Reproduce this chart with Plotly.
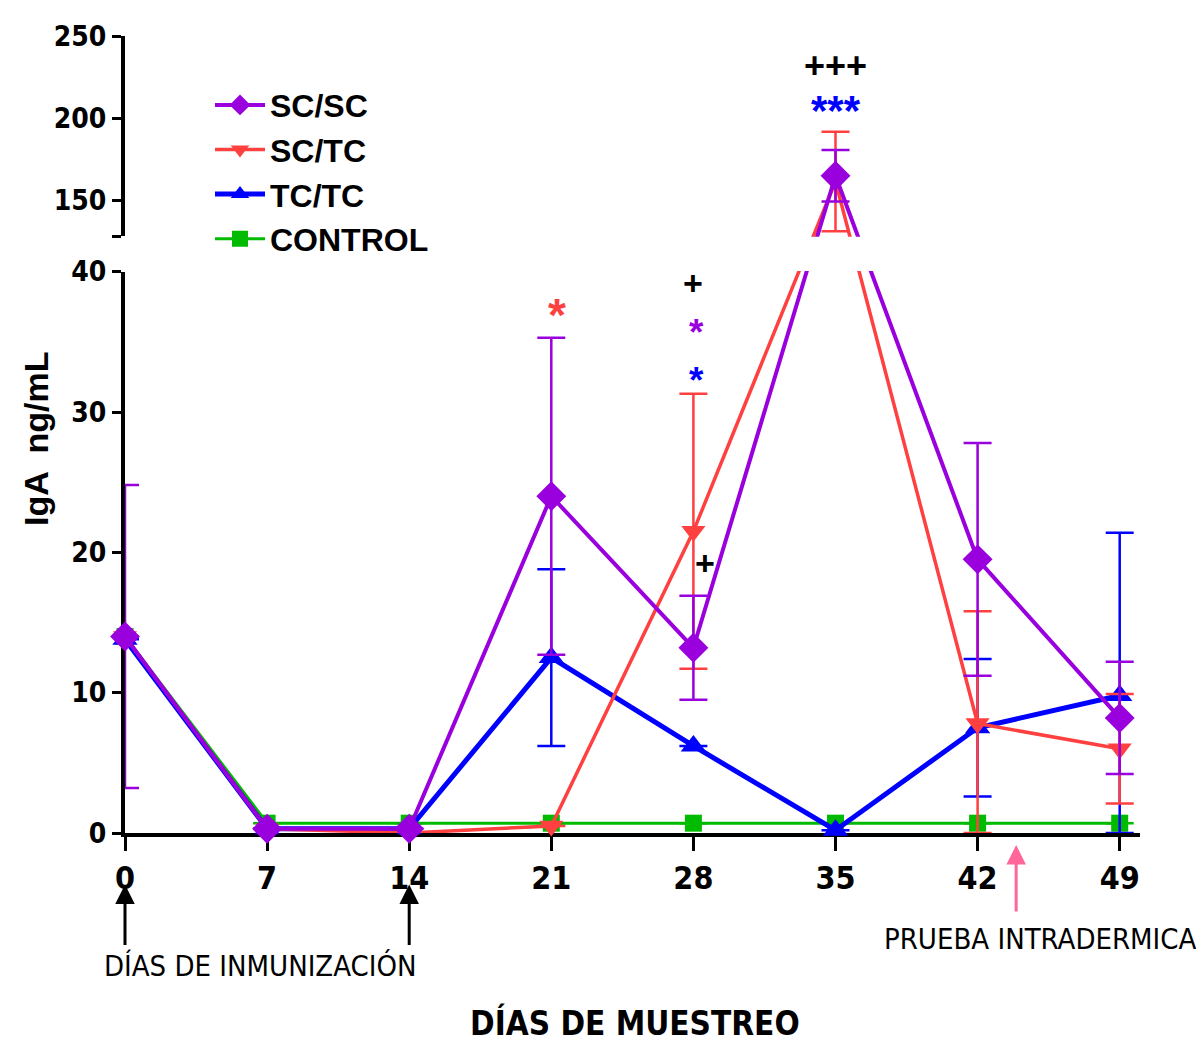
import plotly.graph_objects as go

# ---------------- data ----------------
days = [0, 7, 14, 21, 28, 35, 42, 49]
day_ticks = [0, 7, 14, 21, 28, 35, 42, 49]

sc_sc = [14.0, 0.3, 0.3, 24.0, 13.2, 165.0, 19.5, 8.2]
sc_sc_err = [10.8, 0.0, 0.0, 11.3, 3.7, 15.7, 8.3, 4.0]

sc_tc = [14.0, 0.3, 0.0, 0.5, 21.5, 161.5, 7.8, 6.0]
sc_tc_err = [0.0, 0.0, 0.0, 0.0, 9.8, 30.3, 8.0, 3.9]

tc_tc = [13.8, 0.3, 0.3, 12.5, 6.2, 0.2, 7.5, 9.8]
tc_tc_err = [0.0, 0.0, 0.0, 6.3, 0.0, 0.0, 4.9, 11.6]

control = [14.0, 0.7, 0.7, 0.7, 0.7, 0.7, 0.7, 0.7]
control_err = [0.0] * 8

lower_ticks = [0, 10, 20, 30, 40]
upper_ticks = [128.3, 150, 200, 250]
upper_labels = ["", "150", "200", "250"]

# ---------------- broken axis geometry ----------------
DOM_LO = [0.0, 0.7043]
DOM_UP = [0.749, 1.0]
RANGE_LO = [0, 40]
RANGE_UP = [128.3, 250]


def disp(v):
    """map a data value onto the (broken) display scale, 0..1 of plot height"""
    if v <= RANGE_LO[1]:
        return (v - RANGE_LO[0]) / (RANGE_LO[1] - RANGE_LO[0]) * (DOM_LO[1] - DOM_LO[0]) + DOM_LO[0]
    return DOM_UP[0] + (v - RANGE_UP[0]) / (RANGE_UP[1] - RANGE_UP[0]) * (DOM_UP[1] - DOM_UP[0])


NARROW = "Liberation Sans Narrow, Arial Narrow, DejaVu Sans Condensed, Liberation Sans, Arial"
ARIAL = "Liberation Sans, Arial"

series = [
    ("CONTROL", control, control_err, "#00BB00", "square", 17, 3),
    ("TC/TC", tc_tc, tc_tc_err, "#0000FF", "triangle-up", 22, 5),
    ("SC/TC", sc_tc, sc_tc_err, "#FF4040", "triangle-down", 21, 3.5),
    ("SC/SC", sc_sc, sc_sc_err, "#9900DD", "diamond", 23, 4),
]

fig = go.Figure()

# invisible traces so that both visible y axes own a subplot
fig.add_trace(go.Scatter(x=[], y=[], xaxis="x", yaxis="y", showlegend=False, hoverinfo="skip"))
fig.add_trace(go.Scatter(x=[], y=[], xaxis="x", yaxis="y2", showlegend=False, hoverinfo="skip"))

for name, vals, errs, color, symbol, msize, lw in series:
    yd = [disp(v) for v in vals]
    up = [disp(v + e) - disp(v) for v, e in zip(vals, errs)]
    dn = [disp(v) - disp(max(v - e, 0.0)) for v, e in zip(vals, errs)]
    fig.add_trace(go.Scatter(
        x=days, y=yd, name=name, mode="lines+markers",
        xaxis="x", yaxis="y3", cliponaxis=False,
        line=dict(color=color, width=lw),
        marker=dict(symbol=symbol, size=msize, color=color),
        error_y=dict(type="data", symmetric=False, array=up, arrayminus=dn,
                     color=color, thickness=2.5, width=14),
    ))

# white band hiding the lines across the axis break
fig.add_shape(type="rect", xref="paper", yref="paper", x0=0.006, x1=1.0,
              y0=DOM_LO[1] + 0.001, y1=DOM_UP[0] - 0.001,
              fillcolor="white", line=dict(width=0), layer="above")

# ---------------- significance marks ----------------
BOLD = dict(family=ARIAL, weight="bold")
fig.add_annotation(x=35, y=233.5, xref="x", yref="y2", text="+++", showarrow=False,
                   yshift=-2, font=dict(size=36, color="black", **BOLD))
fig.add_annotation(x=35, y=211, xref="x", yref="y2", text="***", showarrow=False,
                   yshift=-10, font=dict(size=42, color="blue", **BOLD))
fig.add_annotation(x=21.3, y=37.7, xref="x", yref="y", text="*", showarrow=False,
                   yshift=-11, font=dict(size=46, color="#FF4040", **BOLD))
fig.add_annotation(x=28.0, y=39.3, xref="x", yref="y", text="+", showarrow=False,
                   yshift=-2, font=dict(size=34, color="black", **BOLD))
fig.add_annotation(x=28.15, y=34.6, xref="x", yref="y",
                   text="<span style='color:#9900DD'>*</span><br><span style='color:#0000FF'>*</span>",
                   showarrow=False, yshift=-9, font=dict(size=37, color="black", **BOLD))
fig.add_annotation(x=28.55, y=19.4, xref="x", yref="y", text="+", showarrow=False,
                   yshift=-2, font=dict(size=34, color="black", **BOLD))


def py2paper(py):
    return (833 - py) / 805


def px2paper(px):
    return (px - 125) / 1015


# arrows under the x axis
for d in [0, 14]:
    fig.add_annotation(x=d, y=py2paper(885), xref="x", yref="paper", text="",
                       showarrow=True, ax=0, ay=62, arrowhead=2, arrowsize=1.3,
                       arrowwidth=3, arrowcolor="black")
fig.add_annotation(x=43.9, y=py2paper(845), xref="x", yref="paper", text="",
                   showarrow=True, ax=0, ay=68, arrowhead=2, arrowsize=1.3,
                   arrowwidth=3, arrowcolor="#FF6699")

fig.add_annotation(x=px2paper(260), y=py2paper(967), xref="paper", yref="paper",
                   xanchor="center", yanchor="middle",
                   text="DÍAS DE INMUNIZACIÓN", showarrow=False,
                   font=dict(family=NARROW, size=29, color="black"))
fig.add_annotation(x=px2paper(1040), y=py2paper(940), xref="paper", yref="paper",
                   xanchor="center", yanchor="middle",
                   text="PRUEBA INTRADERMICA", showarrow=False,
                   font=dict(family=NARROW, size=29, color="black"))
fig.add_annotation(x=px2paper(635), y=py2paper(1025), xref="paper", yref="paper",
                   xanchor="center", yanchor="middle",
                   text="DÍAS DE MUESTREO", showarrow=False,
                   font=dict(family=NARROW, size=33, color="black", weight="bold"))
fig.add_annotation(x=px2paper(36), y=py2paper(435), xref="paper", yref="paper",
                   xanchor="center", yanchor="middle",
                   text="IgA  ng/mL", showarrow=False, textangle=-90,
                   font=dict(family=ARIAL, size=34, color="black", weight="bold"))

axis_common = dict(showline=True, linecolor="black", linewidth=4, ticks="outside",
                   tickwidth=3, tickcolor="black", showgrid=False, zeroline=False,
                   layer="below traces")

# the page body has an 8px margin: figure is sized so the plot area lands where the
# reference has it (left 125, right 1140, top 28, bottom 833 in window pixels)
fig.update_layout(
    width=1196, height=1034,
    margin=dict(l=117, r=64, t=20, b=209),
    paper_bgcolor="white", plot_bgcolor="rgba(0,0,0,0)",
    xaxis=dict(range=[0, 50], domain=[0, 1], anchor="y", tickvals=day_ticks,
               ticklen=14, tickfont=dict(family=NARROW, size=32, color="black", weight="bold"),
               **axis_common),
    yaxis=dict(range=RANGE_LO, domain=DOM_LO, anchor="x", tickvals=lower_ticks,
               ticklen=9, tickfont=dict(family=NARROW, size=28, color="black", weight="bold"),
               **axis_common),
    yaxis2=dict(range=RANGE_UP, domain=DOM_UP, anchor="x", tickvals=upper_ticks,
                ticktext=upper_labels,
                ticklen=9, tickfont=dict(family=NARROW, size=28, color="black", weight="bold"),
                **axis_common),
    yaxis3=dict(range=[0, 1], domain=[0, 1], anchor="x", visible=False, fixedrange=True),
    legend=dict(x=px2paper(210), y=py2paper(70), xanchor="left", yanchor="top",
                traceorder="reversed", bgcolor="rgba(0,0,0,0)", itemwidth=50,
                font=dict(family=ARIAL, size=32, color="black", weight="bold")),
    showlegend=True,
)

fig.write_html("out.html")
